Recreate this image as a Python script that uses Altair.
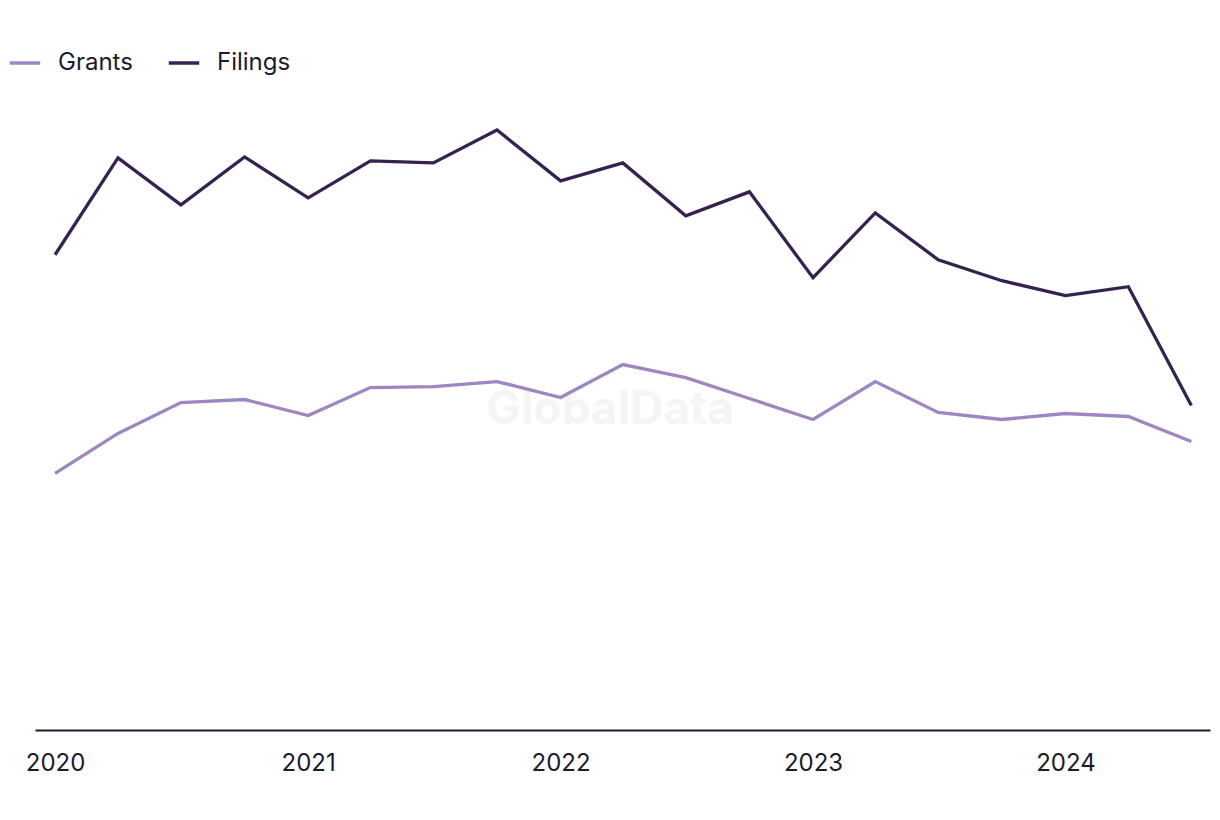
import altair as alt
import pandas as pd

quarters = ["2020-01-01", "2020-04-01", "2020-07-01", "2020-10-01",
            "2021-01-01", "2021-04-01", "2021-07-01", "2021-10-01",
            "2022-01-01", "2022-04-01", "2022-07-01", "2022-10-01",
            "2023-01-01", "2023-04-01", "2023-07-01", "2023-10-01",
            "2024-01-01", "2024-04-01", "2024-07-01"]
filings = [476, 573, 526, 574, 533, 570, 568, 601, 550, 568, 515, 539,
           453, 518, 471, 450, 435, 444, 325]
grants = [257, 297, 328, 331, 315, 343, 344, 349, 333, 366, 353, 332,
          311, 349, 318, 311, 317, 314, 289]

df = pd.DataFrame({
    "date": quarters * 2,
    "value": grants + filings,
    "series": ["Grants"] * len(quarters) + ["Filings"] * len(quarters),
})

FONT = "Inter"
TEXT = "#1b1a2e"

lines = alt.Chart(df).mark_line(strokeWidth=3.3).encode(
    x=alt.X("date:T",
            scale=alt.Scale(domain=["2019-12-03", "2024-07-28"]),
            axis=alt.Axis(title=None, format="%Y", tickCount={"interval": "year", "step": 1},
                          ticks=False, grid=False, domainColor=TEXT, domainWidth=2,
                          labelFont=FONT, labelFontSize=24, labelColor=TEXT,
                          labelPadding=21, labelFlush=False)),
    y=alt.Y("value:Q", scale=alt.Scale(domain=[0, 631]), axis=None),
    color=alt.Color("series:N",
                    scale=alt.Scale(domain=["Grants", "Filings"], range=["#9e86c3", "#35224f"]),
                    legend=alt.Legend(title=None, orient="none", legendX=-27, legendY=-54,
                                      direction="horizontal", symbolType="stroke",
                                      symbolSize=930, symbolStrokeWidth=3.5,
                                      labelFont=FONT, labelFontSize=24, labelColor=TEXT,
                                      labelOffset=16, columnPadding=28)),
)

watermark = alt.Chart(pd.DataFrame({"t": ["GlobalData"]})).mark_text(
    font=FONT, fontSize=46, fontWeight="bold", color="#f5f5f5"
).encode(text="t:N", x=alt.value(575), y=alt.value(310))

chart = alt.layer(watermark, lines).properties(
    width=1175, height=630,
    autosize=alt.AutoSizeParams(type="none"),
    padding={"left": 27, "top": 92, "right": 2, "bottom": 80},
).configure_view(stroke=None)

chart.save("out.html", embed_options={"renderer": "svg", "actions": False})
